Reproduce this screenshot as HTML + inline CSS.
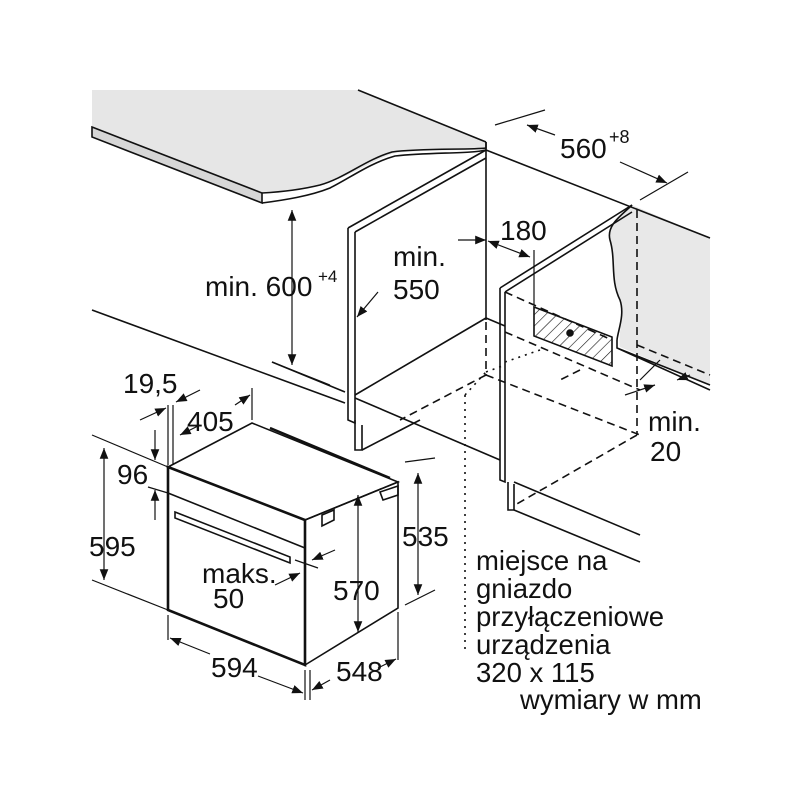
<!DOCTYPE html>
<html><head><meta charset="utf-8"><style>
html,body{margin:0;padding:0;background:#fff;width:800px;height:800px;overflow:hidden}
svg text{font-family:"Liberation Sans",sans-serif;fill:#111}
</style></head><body>
<svg width="800" height="800" viewBox="0 0 800 800" xmlns="http://www.w3.org/2000/svg">
<defs>
<marker id="a" viewBox="0 0 10 10" refX="10" refY="5" markerWidth="9" markerHeight="9" orient="auto-start-reverse"><path d="M0,1 L10,5 L0,9 z" fill="#111"/></marker>
<pattern id="h" width="8" height="8" patternUnits="userSpaceOnUse" patternTransform="rotate(45)"><line x1="0" y1="0" x2="0" y2="8" stroke="#111" stroke-width="1.2"/></pattern>
</defs>
<g stroke="#111" stroke-width="1.6" fill="none">
<path d="M92,90 L358,90 L486,142 L486,150 C470,150 420,150 395,153 C370,160 345,183 300,189 C285,191 272,192 262,193 L92,127 Z" fill="#e6e6e6" stroke="none"/>
<line x1="358" y1="90" x2="486" y2="142"/>
<path d="M92,127 L262,193 L262,203 L92,137 Z" fill="#d6d6d6"/>
<path d="M262,193 C280,192 300,190 320,185 C345,178 365,160 392,152 C420,148 470,150 486,148 L486,142" />
<path d="M262,203 C285,200 310,196 330,188 C350,178 370,163 395,156 C430,152 470,154 486,150"/>
<path d="M632,205 L710,238 L710,385 L620,347 C618,330 625,315 620,300 C610,280 616,260 610,240 C606,225 622,215 632,205 Z" fill="#e8e8e8" stroke="none"/>
<line x1="486" y1="150" x2="710" y2="238"/>
<path d="M632,205 C622,215 606,225 610,240 C616,260 610,280 620,300 C625,315 618,330 617,340"/>
<path d="M617,340 L617,348 L710,390 M617,348 L710,385" />
<line x1="486" y1="142" x2="486" y2="320"/>
<path d="M348,228 L486,150 M355,232 L486,158"/>
<path d="M348,228 L348,420 L355,423 L355,232"/>
<line x1="355" y1="395" x2="486" y2="318"/>
<line x1="486" y1="318" x2="505" y2="326"/>
<path d="M355,420 L355,450 L362,450 L362,425"/>
<line x1="362" y1="450" x2="420" y2="420"/>
<line x1="92" y1="310" x2="345" y2="403"/>
<line x1="355" y1="398" x2="500" y2="460"/>
<line x1="272" y1="362" x2="345" y2="392"/>
<path d="M500,288 L632,205 M505,292 L632,212"/>
<path d="M500,288 L500,480 L505,482 L505,292"/>
<path d="M508,482 L508,510 L514,510 L514,484"/>
<line x1="514" y1="510" x2="640" y2="562"/>
<line x1="514" y1="482" x2="640" y2="535"/>
<g stroke-dasharray="8,5">
<line x1="505" y1="292" x2="612" y2="340"/>
<line x1="505" y1="332" x2="640" y2="390"/>
<line x1="486" y1="322" x2="486" y2="375"/>
<line x1="486" y1="375" x2="640" y2="435"/>
<line x1="486" y1="375" x2="400" y2="420"/>
<line x1="637" y1="210" x2="637" y2="435"/>
<line x1="637" y1="435" x2="515" y2="505"/>
<line x1="637" y1="345" x2="710" y2="375"/>
<line x1="580" y1="370" x2="560" y2="380"/>
</g>
<path d="M486,372 L505,365 M505,362 L540,350" stroke-dasharray="2,5"/>
<line x1="465" y1="395" x2="465" y2="650" stroke-dasharray="2,5"/>
<line x1="465" y1="395" x2="486" y2="372" stroke-dasharray="2,5"/>
<path d="M534,307 L612,337 L612,366 L534,336 Z" fill="url(#h)"/>
<circle cx="570" cy="333" r="3" fill="#111"/>
<path d="M168,467 L252,423 L398,482 L305,520 Z"/>
<path d="M305,520 L398,482 L398,608 L305,665 Z"/>
<path d="M168,467 L305,520 L305,665 L168,610 Z" stroke-width="2.6"/>
<line x1="168" y1="493" x2="305" y2="548"/>
<path d="M270,428 L390,478" stroke-width="2.4"/>
<path d="M175,512 L290,557 L290,563 L175,518 Z"/>
<path d="M380,492 L398,486 L398,495 L383,500 Z"/>
<path d="M322,515 L334,510 L334,520 L322,526 Z"/>
<g stroke-width="1.2">
<line x1="292" y1="210" x2="292" y2="365" marker-start="url(#a)" marker-end="url(#a)"/>
<line x1="272" y1="362" x2="330" y2="385"/>
<line x1="458" y1="240" x2="486" y2="240" marker-end="url(#a)"/>
<line x1="378" y1="292" x2="357" y2="317" marker-end="url(#a)"/>
<line x1="488" y1="241" x2="530" y2="257" marker-start="url(#a)" marker-end="url(#a)"/>
<line x1="534" y1="250" x2="534" y2="305"/>
<line x1="495" y1="125" x2="545" y2="110"/>
<line x1="527" y1="125" x2="555" y2="135" marker-start="url(#a)"/>
<line x1="620" y1="162" x2="667" y2="183" marker-end="url(#a)"/>
<line x1="640" y1="200" x2="688" y2="172"/>
<line x1="660" y1="360" x2="640" y2="380"/>
<line x1="690" y1="375" x2="677" y2="380" marker-end="url(#a)"/>
<line x1="625" y1="395" x2="655" y2="385" marker-end="url(#a)"/>
<line x1="92" y1="435" x2="168" y2="467"/>
<line x1="92" y1="580" x2="168" y2="610"/>
<line x1="104" y1="448" x2="104" y2="580" marker-start="url(#a)" marker-end="url(#a)"/>
<line x1="155" y1="430" x2="155" y2="460" marker-end="url(#a)"/>
<line x1="155" y1="520" x2="155" y2="490" marker-end="url(#a)"/>
<line x1="148" y1="487" x2="168" y2="493"/>
<line x1="168" y1="405" x2="168" y2="465"/>
<line x1="173" y1="405" x2="173" y2="465"/>
<line x1="140" y1="420" x2="166" y2="408" marker-end="url(#a)"/>
<line x1="200" y1="390" x2="176" y2="402" marker-end="url(#a)"/>
<line x1="180" y1="435" x2="200" y2="425" marker-start="url(#a)"/>
<line x1="235" y1="405" x2="250" y2="395" marker-end="url(#a)"/>
<line x1="252" y1="388" x2="252" y2="420"/>
<line x1="168" y1="615" x2="168" y2="640"/>
<line x1="305" y1="670" x2="305" y2="700"/>
<line x1="310" y1="670" x2="310" y2="700"/>
<line x1="398" y1="612" x2="398" y2="660"/>
<line x1="170" y1="638" x2="210" y2="654" marker-start="url(#a)"/>
<line x1="258" y1="676" x2="303" y2="693" marker-end="url(#a)"/>
<line x1="330" y1="680" x2="312" y2="690" marker-end="url(#a)"/>
<line x1="378" y1="668" x2="396" y2="659" marker-end="url(#a)"/>
<line x1="358" y1="495" x2="358" y2="632" marker-start="url(#a)" marker-end="url(#a)"/>
<line x1="418" y1="473" x2="418" y2="595" marker-start="url(#a)" marker-end="url(#a)"/>
<line x1="405" y1="462" x2="435" y2="458"/>
<line x1="405" y1="605" x2="435" y2="590"/>
<line x1="295" y1="560" x2="318" y2="568"/>
<line x1="335" y1="550" x2="312" y2="560" marker-end="url(#a)"/>
<line x1="275" y1="585" x2="300" y2="573" marker-end="url(#a)"/>
</g>
</g>
<g font-size="28">
<text x="205" y="296">min. 600</text><text x="318" y="282" font-size="17">+4</text>
<text x="393" y="266">min.</text><text x="393" y="299">550</text>
<text x="560" y="158">560</text><text x="609" y="143" font-size="18">+8</text>
<text x="500" y="240">180</text>
<text x="648" y="431">min.</text><text x="650" y="461">20</text>
<text x="123" y="393">19,5</text>
<text x="187" y="431">405</text>
<text x="117" y="484">96</text>
<text x="89" y="556">595</text>
<text x="202" y="583">maks.</text><text x="213" y="608">50</text>
<text x="333" y="600">570</text>
<text x="402" y="546">535</text>
<text x="211" y="677">594</text>
<text x="336" y="681">548</text>
</g>
<g font-size="27.5">
<text x="476" y="570">miejsce na</text>
<text x="476" y="598">gniazdo</text>
<text x="476" y="626">przyłączeniowe</text>
<text x="476" y="654">urządzenia</text>
<text x="476" y="682">320 x 115</text>
<text x="520" y="709">wymiary w mm</text>
</g>
</svg>
</body></html>
